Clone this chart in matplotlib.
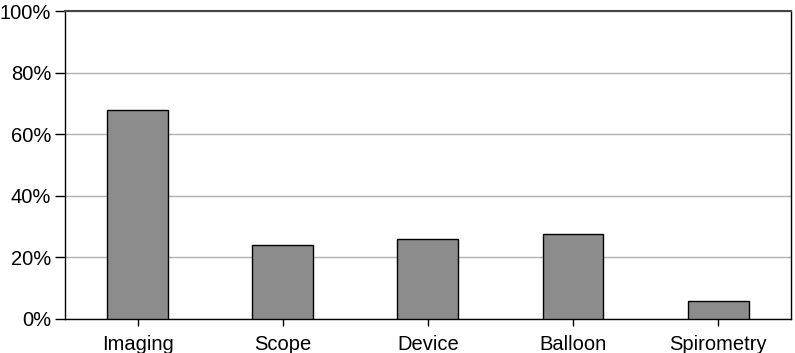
import matplotlib
matplotlib.use("Agg")
import matplotlib.pyplot as plt
from matplotlib.ticker import FuncFormatter

categories = ["Imaging", "Scope", "Device", "Balloon", "Spirometry"]
values = [67.8, 24.1, 25.9, 27.5, 5.9]
yticks = [0, 20, 40, 60, 80, 100]

plt.rcParams['font.family'] = ['Liberation Sans', 'DejaVu Sans']
fig = plt.figure(figsize=(7.95, 3.53), dpi=100)
ax = fig.add_axes([0.0818, 0.0972, 0.9128, 0.8716])

x = range(len(categories))
ax.bar(x, values, width=0.42, color="#8c8c8c", edgecolor="black", linewidth=1.0, zorder=3)
ax.set_xlim(-0.5, len(categories) - 0.5)
ax.set_ylim(0, 100)
ax.set_yticks(yticks)
ax.yaxis.set_major_formatter(FuncFormatter(lambda v, p: f"{int(v)}%"))
ax.set_xticks(list(x))
ax.set_xticklabels(categories)
ax.tick_params(axis='both', labelsize=14.5, colors='black', width=1)
ax.tick_params(axis='y', length=7, pad=3)
ax.tick_params(axis='x', length=5, pad=7)
ax.yaxis.grid(True, color="#b0b0b0", linewidth=1, zorder=0)
for s in ax.spines.values():
    s.set_color("black")
    s.set_linewidth(1)
ax.spines['top'].set_color("#444444")
ax.spines['top'].set_linewidth(1.5)
fig.savefig("out.png", dpi=100)
